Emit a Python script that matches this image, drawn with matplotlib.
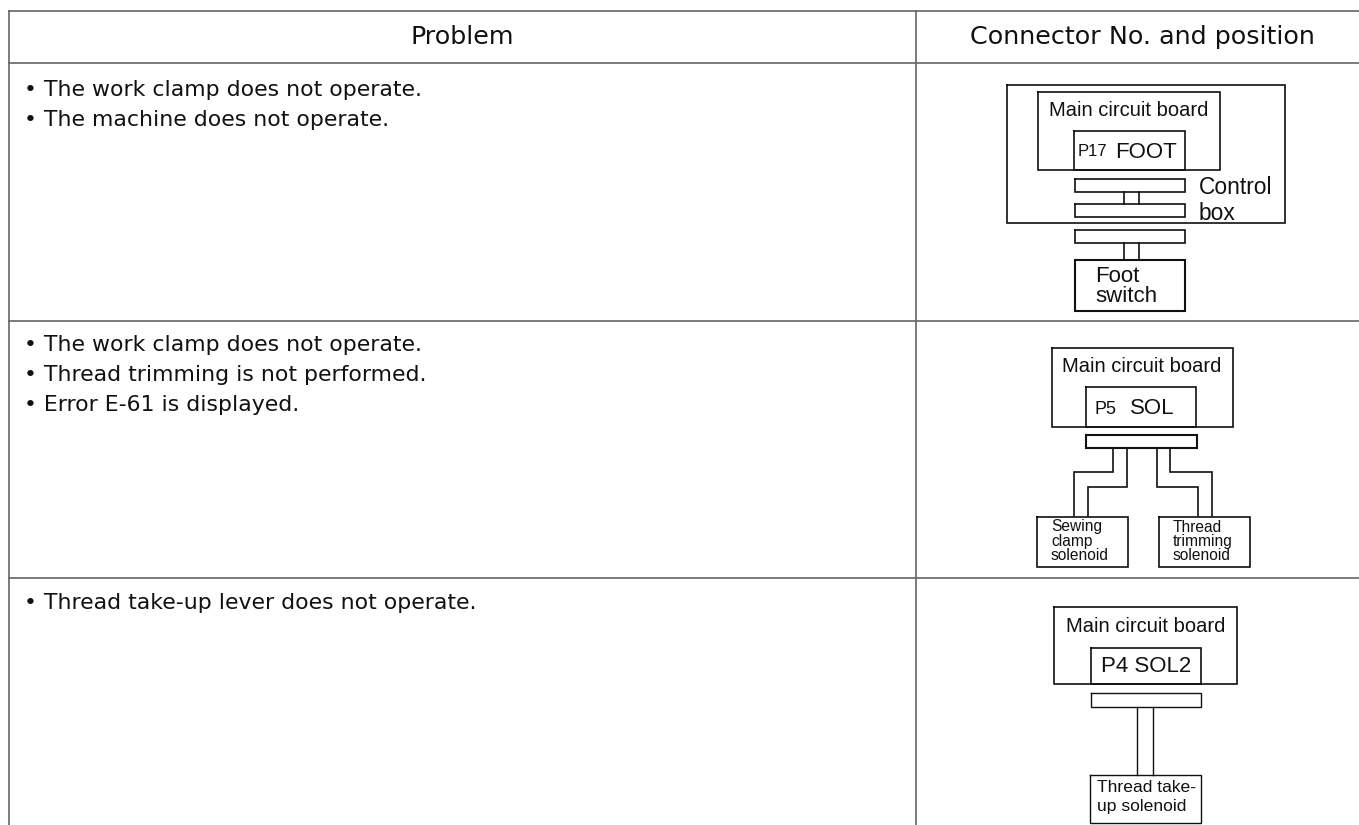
import matplotlib
matplotlib.use('Agg')
import matplotlib.pyplot as plt

# table text
headers = ['Problem', 'Connector No. and position']
row1_lines = ['• The work clamp does not operate.', '• The machine does not operate.']
row2_lines = ['• The work clamp does not operate.', '• Thread trimming is not performed.', '• Error E-61 is displayed.']
row3_lines = ['• Thread take-up lever does not operate.']

fig = plt.figure(figsize=(13.59, 8.25), dpi=100)
ax = fig.add_axes([0, 0, 1, 1])
ax.set_xlim(0, 1359)
ax.set_ylim(825, 0)
ax.axis('off')

GRID = '#666666'
INK = '#111111'
BODY_FONT = 'DejaVu Sans'
DIAG_FONT = 'Liberation Sans'


def line(xs, ys, lw=1.2, c=INK):
    ax.plot(xs, ys, color=c, lw=lw, solid_capstyle='projecting', solid_joinstyle='miter')


def box(x0, y0, x1, y1, lw=1.2):
    line([x0, x1, x1, x0, x0], [y0, y0, y1, y1, y0], lw=lw)


def label(x, y, s, size=14.5, ha='left'):
    ax.text(x, y, s, fontsize=size, family=DIAG_FONT, color=INK, ha=ha, va='center')


# table grid, no border on the right
for y in [11, 63, 321, 578]:
    line([8.5, 1362], [y, y], lw=1.2, c=GRID)
line([8.5, 8.5], [11, 828], lw=1.2, c=GRID)
line([916, 916], [11, 828], lw=1.2, c=GRID)

ax.text(462.5, 37, headers[0], fontsize=18.3, family=BODY_FONT, color=INK, ha='center', va='center')
ax.text(1142.5, 37, headers[1], fontsize=18.3, family=BODY_FONT, color=INK, ha='center', va='center')

for i, s in enumerate(row1_lines):
    ax.text(24, 90 + i * 30, s, fontsize=15.8, family=BODY_FONT, color=INK, va='center')
for i, s in enumerate(row2_lines):
    ax.text(24, 345 + i * 30, s, fontsize=15.8, family=BODY_FONT, color=INK, va='center')
for i, s in enumerate(row3_lines):
    ax.text(24, 603 + i * 30, s, fontsize=15.8, family=BODY_FONT, color=INK, va='center')

# diagram 1: foot switch
box(1007, 85, 1285, 223)
box(1038, 92, 1220, 170)
box(1074, 131, 1185, 170)
box(1075, 179, 1185, 192)
box(1075, 204, 1185, 217)
box(1075, 230, 1185, 243)
box(1075, 260, 1185, 311, lw=1.5)
for x in [1124, 1139]:
    line([x, x], [192, 204])
    line([x, x], [243, 260])
label(1049, 110, 'Main circuit board')
label(1078, 152, 'P17', size=12)
label(1115, 152, 'FOOT', size=16)
label(1199, 187, 'Control', size=16.4)
label(1199, 213, 'box', size=16.4)
label(1095, 276, 'Foot', size=16)
label(1095, 297, 'switch', size=16)

# diagram 2: solenoids
box(1052, 348, 1233, 427)
box(1086, 387, 1196, 427)
box(1086, 435, 1197, 448, lw=1.5)
line([1113, 1113, 1074, 1074], [448, 472, 472, 516])
line([1127, 1127, 1088, 1088], [448, 487, 487, 516])
line([1157, 1157, 1198, 1198], [448, 487, 487, 516])
line([1170, 1170, 1212, 1212], [448, 472, 472, 516])
box(1037, 517, 1128, 567)
box(1159, 517, 1250, 567)
label(1062, 367, 'Main circuit board')
label(1094, 409, 'P5', size=13)
label(1130, 409, 'SOL', size=16)
for i, s in enumerate(['Sewing', 'clamp', 'solenoid']):
    label(1051, 527 + i * 14.5, s, size=11.2)
for i, s in enumerate(['Thread', 'trimming', 'solenoid']):
    label(1173, 527 + i * 14.5, s, size=11.2)

# diagram 3: take-up solenoid
box(1054, 607, 1237, 684)
box(1091, 648, 1201, 684)
box(1091, 693, 1201, 707, lw=1.0)
line([1137, 1137], [707, 775], lw=1.0)
line([1153, 1153], [707, 775], lw=1.0)
box(1090, 775, 1201, 823, lw=1.0)
label(1066, 626, 'Main circuit board')
label(1101, 667, 'P4 SOL2', size=16)
label(1097, 788, 'Thread take-', size=12.6)
label(1097, 807, 'up solenoid', size=12.6)

fig.savefig('out.png', dpi=100)
